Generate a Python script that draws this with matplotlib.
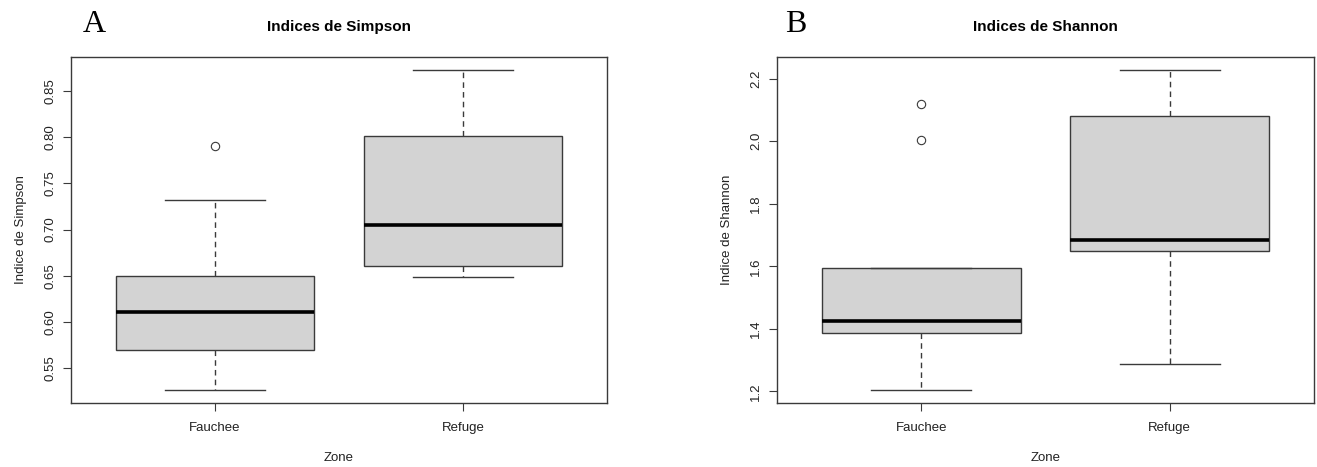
import matplotlib.pyplot as plt

plt.rcParams['font.family'] = ['Liberation Sans', 'DejaVu Sans']

zones = ['Fauchee', 'Refuge']

# boxplot stats: low whisker, Q1, median, Q3, high whisker
simpson_fauchee = [0.526, 0.569, 0.611, 0.650, 0.732]
simpson_refuge = [0.649, 0.660, 0.705, 0.801, 0.873]
simpson_outliers = [[0.790], []]

shannon_fauchee = [1.204, 1.386, 1.424, 1.596, 1.596]
shannon_refuge = [1.289, 1.649, 1.685, 2.080, 2.228]
shannon_outliers = [[2.004, 2.119], []]

simpson_ticks = [0.55, 0.60, 0.65, 0.70, 0.75, 0.80, 0.85]
shannon_ticks = [1.2, 1.4, 1.6, 1.8, 2.0, 2.2]

edge = '#3a3a3a'


def make_stats(groups, outliers):
    stats = []
    for name, g, out in zip(zones, groups, outliers):
        stats.append({'label': name, 'whislo': g[0], 'q1': g[1], 'med': g[2],
                      'q3': g[3], 'whishi': g[4], 'fliers': out})
    return stats


def draw(ax, groups, outliers, ticks, fmt, title, ylabel):
    ax.bxp(make_stats(groups, outliers), positions=[1, 2], widths=0.8,
           capwidths=0.4, patch_artist=True,
           boxprops=dict(facecolor='#d3d3d3', edgecolor=edge, linewidth=1),
           medianprops=dict(color='black', linewidth=2.6, solid_capstyle='butt'),
           whiskerprops=dict(color=edge, linewidth=1, linestyle=(0, (4, 3))),
           capprops=dict(color=edge, linewidth=1),
           flierprops=dict(marker='o', markerfacecolor='none', markeredgecolor=edge,
                           markersize=6, markeredgewidth=0.8))
    # R style limits: data range padded by 4%
    vals = [v for g in groups for v in g] + [v for o in outliers for v in o]
    lo, hi = min(vals), max(vals)
    r = hi - lo
    ax.set_ylim(lo - 0.04 * r, hi + 0.04 * r)
    ax.set_xlim(0.42, 2.58)
    ax.set_yticks(ticks)
    ax.set_yticklabels([fmt.format(t) for t in ticks], rotation=90, va='center')
    ax.tick_params(axis='both', length=5.8, width=0.8, color=edge, labelsize=9.5,
                   labelcolor='#222222')
    ax.tick_params(axis='y', pad=5)
    ax.tick_params(axis='x', pad=8)
    for s in ax.spines.values():
        s.set_color(edge)
        s.set_linewidth(1)
    ax.set_title(title, fontsize=11, fontweight='bold', pad=18.5)
    ax.set_xlabel('Zone', fontsize=9.5, labelpad=12.5, color='#222222')
    ax.set_ylabel(ylabel, fontsize=9.5, labelpad=12, color='#222222')


fig = plt.figure(figsize=(13.17, 4.67), dpi=100)
ax1 = fig.add_axes([71 / 1317, 64 / 467, 536 / 1317, 346 / 467])
ax2 = fig.add_axes([777 / 1317, 64 / 467, 537 / 1317, 346 / 467])

draw(ax1, [simpson_fauchee, simpson_refuge], simpson_outliers, simpson_ticks,
     '{:.2f}', 'Indices de Simpson', 'Indice de Simpson')
draw(ax2, [shannon_fauchee, shannon_refuge], shannon_outliers, shannon_ticks,
     '{:.1f}', 'Indices de Shannon', 'Indice de Shannon')

fig.text(94 / 1317, 1 - 24 / 467, 'A', fontsize=23, family='Liberation Serif',
         ha='center', va='center')
fig.text(796 / 1317, 1 - 24 / 467, 'B', fontsize=23, family='Liberation Serif',
         ha='center', va='center')

fig.savefig('out.png', dpi=100)
